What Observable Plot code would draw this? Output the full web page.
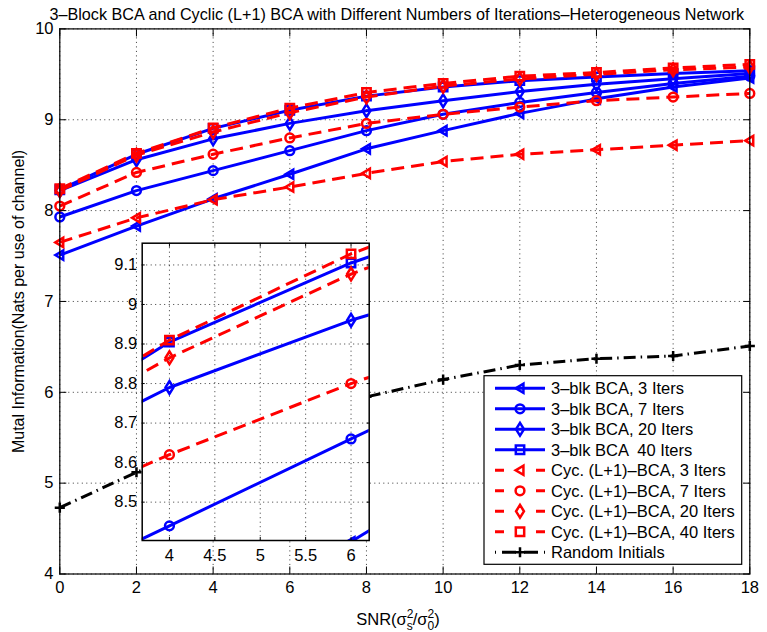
<!DOCTYPE html>
<html><head><meta charset="utf-8">
<script src="https://cdn.jsdelivr.net/npm/d3@7"></script>
<script src="https://cdn.jsdelivr.net/npm/@observablehq/plot@0.6"></script>
<style>
body{margin:0;background:#fff;}
#wrap{position:relative;width:767px;height:632px;overflow:hidden;}
#wrap svg{position:absolute;left:0;top:0;}
</style></head><body><div id="wrap"></div>
<script>
// ---------- data ----------
const snr = [0, 2, 4, 6, 8, 10, 12, 14, 16, 18];
const blk3  = [7.51, 7.83, 8.13, 8.40, 8.68, 8.88, 9.07, 9.23, 9.36, 9.46];
const blk7  = [7.93, 8.22, 8.44, 8.66, 8.88, 9.06, 9.19, 9.30, 9.40, 9.48];
const blk20 = [8.22, 8.56, 8.79, 8.96, 9.10, 9.21, 9.31, 9.39, 9.45, 9.51];
const blk40 = [8.23, 8.62, 8.905, 9.105, 9.26, 9.36, 9.43, 9.47, 9.51, 9.54];
const cyc3  = [7.65, 7.92, 8.12, 8.26, 8.41, 8.54, 8.62, 8.67, 8.72, 8.77];
const cyc7  = [8.05, 8.42, 8.62, 8.80, 8.96, 9.06, 9.14, 9.21, 9.25, 9.29];
const cyc20 = [8.22, 8.61, 8.865, 9.077, 9.25, 9.37, 9.45, 9.50, 9.55, 9.58];
const cyc40 = [8.24, 8.63, 8.91, 9.128, 9.30, 9.40, 9.48, 9.52, 9.57, 9.61];
const randomInit = [4.73, 5.12, 5.45, 5.72, 5.95, 6.14, 6.30, 6.37, 6.40, 6.51];

const seriesNames = [
  "3\u2013blk BCA, 3 Iters", "3\u2013blk BCA, 7 Iters", "3\u2013blk BCA, 20 Iters", "3\u2013blk BCA  40 Iters",
  "Cyc. (L+1)\u2013BCA, 3 Iters", "Cyc. (L+1)\u2013BCA, 7 Iters", "Cyc. (L+1)\u2013BCA, 20 Iters", "Cyc. (L+1)\u2013BCA, 40 Iters",
  "Random Initials"
];
const seriesValues = [blk3, blk7, blk20, blk40, cyc3, cyc7, cyc20, cyc40, randomInit];

const xTicks = [0, 2, 4, 6, 8, 10, 12, 14, 16, 18];
const yTicks = [4, 5, 6, 7, 8, 9, 10];
const insetXTicks = [4, 4.5, 5, 5.5, 6];
const insetYTicks = [8.5, 8.6, 8.7, 8.8, 8.9, 9, 9.1];
const titleText = "3\u2013Block BCA and Cyclic (L+1) BCA with Different Numbers of Iterations\u2013Heterogeneous Network";
const yLabelText = "Mutal Information(Nats per use of channel)";

// ---------- styles ----------
const FONT = "'Liberation Sans', Arial, Helvetica, sans-serif";
const TICKFS = 16.5;
const sym = (pts) => ({draw(ctx, size) {
  const s = Math.sqrt(size / Math.PI);
  ctx.moveTo(pts[0][0] * s, pts[0][1] * s);
  for (let k = 1; k < pts.length; k++) ctx.lineTo(pts[k][0] * s, pts[k][1] * s);
  ctx.closePath();
}});
const symTri = sym([[-1.0, 0], [0.78, -1.05], [0.78, 1.05]]);
const symCircle = {draw(ctx, size) { const s = Math.sqrt(size / Math.PI); ctx.moveTo(s, 0); ctx.arc(0, 0, s, 0, 2 * Math.PI); }};
const symDiamond = sym([[0, -1.45], [0.9, 0], [0, 1.45], [-0.9, 0]]);
const symSquare = sym([[-0.95, -0.95], [0.95, -0.95], [0.95, 0.95], [-0.95, 0.95]]);
const symPlus = {draw(ctx, size) { const s = Math.sqrt(size / Math.PI) * 1.15; ctx.moveTo(-s, 0); ctx.lineTo(s, 0); ctx.moveTo(0, -s); ctx.lineTo(0, s); }};
const BLUE = "#0000ff", RED = "#ff0000", BLACK = "#000000";
const styles = [
  {color: BLUE, dash: null, symbol: symTri},
  {color: BLUE, dash: null, symbol: symCircle},
  {color: BLUE, dash: null, symbol: symDiamond},
  {color: BLUE, dash: null, symbol: symSquare},
  {color: RED, dash: "13,7", symbol: symTri},
  {color: RED, dash: "13,7", symbol: symCircle},
  {color: RED, dash: "13,7", symbol: symDiamond},
  {color: RED, dash: "13,7", symbol: symSquare},
  {color: BLACK, dash: "12,5,1.5,5", symbol: symPlus}
];
const R = 4.4;
const fmt = d => String(d);

function seriesMarks(clip) {
  return seriesValues.flatMap((vals, i) => {
    const st = styles[i];
    const data = snr.map((x, j) => ({x, y: vals[j]}));
    return [
      Plot.line(data, {x: "x", y: "y", stroke: st.color, strokeWidth: 3, strokeDasharray: st.dash, strokeLinecap: "butt", clip}),
      Plot.dot(data, {x: "x", y: "y", symbol: st.symbol, r: R, fill: "none", stroke: st.color, strokeWidth: 2.5, clip})
    ];
  });
}
const gridStyle = {stroke: "#222", strokeOpacity: 1, strokeWidth: 0.9, strokeDasharray: "1,3.5"};

// ---------- main plot ----------
const main = Plot.plot({
  width: 767, height: 632,
  marginLeft: 59.3, marginRight: 17.7, marginTop: 28.4, marginBottom: 58.5,
  style: {fontFamily: FONT, fontSize: "16px", color: "#000", background: "#fff", overflow: "visible"},
  x: {domain: [0, 18]},
  y: {domain: [4, 10]},
  marks: [
    Plot.gridX(xTicks, gridStyle),
    Plot.gridY(yTicks, gridStyle),
    ...seriesMarks(false),
    Plot.frame({stroke: "#000", strokeWidth: 1.2}),
    Plot.axisX(xTicks, {anchor: "bottom", tickSize: -7, tickPadding: 14.5, label: null, fontSize: TICKFS, tickFormat: fmt}),
    Plot.axisX(xTicks, {anchor: "top", tickSize: -7, tickFormat: () => "", label: null}),
    Plot.axisY(yTicks, {anchor: "left", tickSize: -7, tickPadding: 13.3, label: null, fontSize: TICKFS, tickFormat: fmt}),
    Plot.axisY(yTicks, {anchor: "right", tickSize: -7, tickFormat: () => "", label: null}),
    Plot.text([titleText], {text: d => d, frameAnchor: "top", textAnchor: "middle", dx: -8, dy: -20.5, fontSize: 16.2}),
    Plot.text([yLabelText], {text: d => d, frameAnchor: "left", textAnchor: "middle", rotate: -90, dx: -41, fontSize: 16})
  ]
});

// ---------- inset ----------
const inset = Plot.plot({
  width: 767, height: 632,
  marginLeft: 141.7, marginRight: 398.3, marginTop: 242.7, marginBottom: 92,
  style: {fontFamily: FONT, fontSize: "16px", color: "#000", background: "transparent", overflow: "visible"},
  x: {domain: [3.7, 6.2]},
  y: {domain: [8.403, 9.155]},
  marks: [
    Plot.frame({fill: "#fff", stroke: null}),
    Plot.gridX(insetXTicks, gridStyle),
    Plot.gridY(insetYTicks, gridStyle),
    ...seriesMarks(true),
    Plot.frame({stroke: "#000", strokeWidth: 1.5}),
    Plot.axisX(insetXTicks, {anchor: "bottom", tickSize: -3, tickPadding: 11.5, label: null, fontSize: TICKFS, tickFormat: fmt}),
    Plot.axisX(insetXTicks, {anchor: "top", tickSize: -3, tickFormat: () => "", label: null}),
    Plot.axisY(insetYTicks, {anchor: "left", tickSize: -3, tickPadding: 8, label: null, fontSize: TICKFS, tickFormat: fmt}),
    Plot.axisY(insetYTicks, {anchor: "right", tickSize: -3, tickFormat: () => "", label: null})
  ]
});

const wrap = document.getElementById("wrap");
wrap.appendChild(main);
wrap.appendChild(inset);

// ---------- x label with sub/superscripts ----------
const svg = d3.select(main);
const xl = svg.append("text").attr("x", 398).attr("y", 625).attr("text-anchor", "middle")
  .attr("font-family", FONT).attr("font-size", 16.5).attr("fill", "#000");
xl.append("tspan").text("SNR(\u03c3");
xl.append("tspan").attr("font-size", 12).attr("dy", -7).text("2");
xl.append("tspan").attr("font-size", 12).attr("dx", -6.7).attr("dy", 11.5).text("s");
xl.append("tspan").attr("dy", -4.5).text("/\u03c3");
xl.append("tspan").attr("font-size", 12).attr("dy", -7).text("2");
xl.append("tspan").attr("font-size", 12).attr("dx", -6.7).attr("dy", 11.5).text("0");
xl.append("tspan").attr("dy", -4.5).text(")");

// ---------- legend ----------
const lg = svg.append("g").attr("font-family", FONT).attr("font-size", 16.5).attr("text-anchor", "start");
lg.append("rect").attr("x", 484).attr("y", 375.7).attr("width", 257.7).attr("height", 188.6)
  .attr("fill", "#fff").attr("stroke", "#000").attr("stroke-width", 1.2);
const legendDash = [null, null, null, null, "9,32", "9,32", "9,32", "9,32", "1,6,14,8,14,6,1,100"];
seriesNames.forEach((name, i) => {
  const st = styles[i];
  const cy = 388.3 + i * 20.5;
  lg.append("line").attr("x1", 495).attr("x2", 545).attr("y1", cy).attr("y2", cy)
    .attr("stroke", st.color).attr("stroke-width", 3).attr("stroke-dasharray", legendDash[i]);
  lg.append("path").attr("d", d3.symbol(st.symbol, Math.PI * R * R)())
    .attr("transform", `translate(520,${cy})`).attr("fill", "none")
    .attr("stroke", st.color).attr("stroke-width", 2.5);
  lg.append("text").attr("x", 551).attr("y", cy).attr("dy", "0.36em").attr("fill", "#000").text(name);
});
</script></body></html>
